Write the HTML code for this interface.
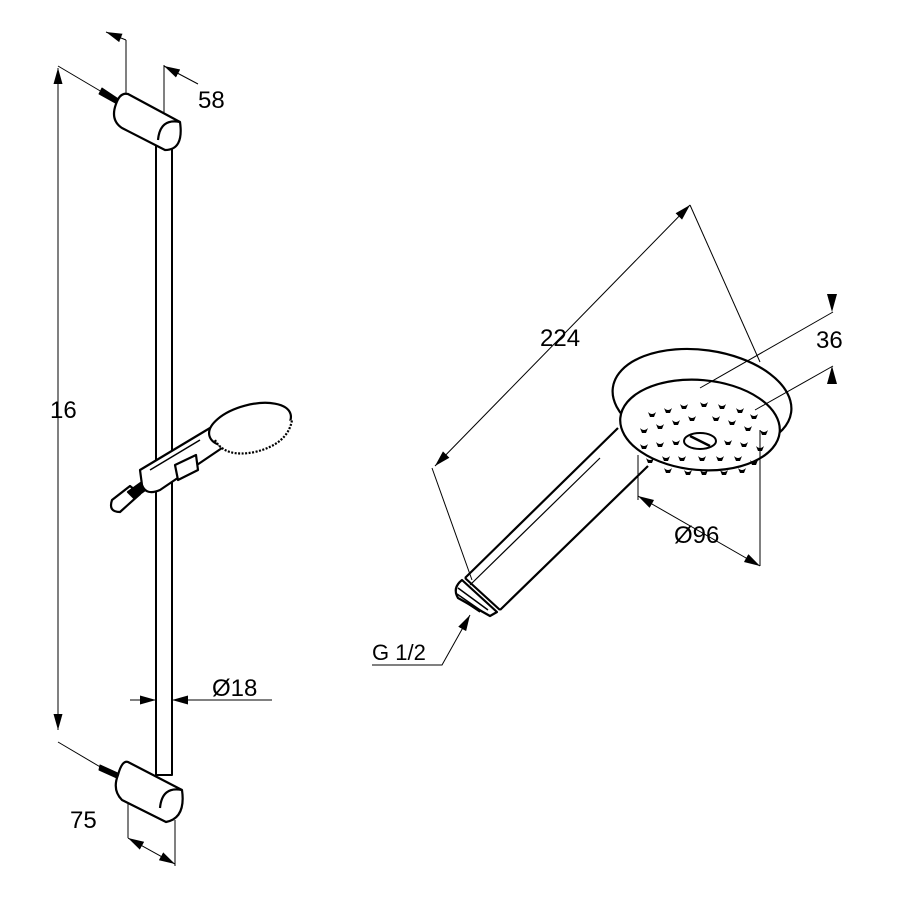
<!DOCTYPE html>
<html><head><style>body{margin:0;background:#fff}svg{display:block}</style></head>
<body>
<svg width="900" height="900" viewBox="0 0 900 900" xmlns="http://www.w3.org/2000/svg" font-family="Liberation Sans, DejaVu Sans, sans-serif">
<defs>
<marker id="a" viewBox="0 0 16 10" refX="16" refY="5" markerWidth="16" markerHeight="10" markerUnits="userSpaceOnUse" orient="auto-start-reverse"><path d="M0,0.5 L16,5 L0,9.5z" fill="#000"/></marker>
</defs>
<g stroke="#000" fill="none" stroke-width="1">
<line x1="58" y1="68" x2="58" y2="730" marker-start="url(#a)" marker-end="url(#a)"/>
<line x1="58" y1="66" x2="102" y2="92"/>
<line x1="58" y1="742" x2="102" y2="768"/>
<line x1="126" y1="98" x2="126" y2="40"/>
<line x1="126" y1="40" x2="106" y2="32" marker-end="url(#a)"/>
<line x1="164" y1="130" x2="164" y2="65"/>
<line x1="198" y1="84" x2="164" y2="66" marker-end="url(#a)"/>
<line x1="130" y1="700" x2="156" y2="700" marker-end="url(#a)"/>
<line x1="272" y1="700" x2="172" y2="700" marker-end="url(#a)"/>
<line x1="128" y1="800" x2="128" y2="838"/>
<line x1="175" y1="820" x2="175" y2="866"/>
<line x1="128" y1="838" x2="175" y2="864" marker-start="url(#a)" marker-end="url(#a)"/>
</g>
<g stroke="#000" fill="#fff" stroke-width="2.2" stroke-linejoin="round">
<rect x="156" y="135" width="16" height="640" stroke-width="2"/>
<path d="M102,88 l18,12 -3,4 -18,-10z" fill="#000" stroke-width="1"/>
<path d="M128,94 L180,122 Q184,150 165,150 L122,128 Q110,120 116,104 Q120,92 128,94z"/>
<path d="M180,122 Q160,118 158,140"/>
<path d="M100,765 l22,10 -3,4 -20,-9z" fill="#000" stroke-width="1"/>
<path d="M128,762 L182,790 Q186,818 166,822 L122,800 Q112,790 118,775 Q122,760 128,762z"/>
<path d="M182,790 Q162,786 160,808"/>
<path d="M112,500 L130,486 L140,494 L120,512 Q108,512 112,500z"/>
<path d="M128,492 l14,-10 6,6 -14,10z" fill="#000"/>
<path d="M140,470 L210,428 L222,448 L160,490 Q146,496 142,485z"/>
<path d="M200,440 L150,470" stroke-width="1.5"/>
<path d="M175,465 L196,455 L198,470 L178,480z"/>
<ellipse cx="250" cy="425" rx="42" ry="20" transform="rotate(-15 250 425)"/>
<path d="M215,440 Q225,458 255,452 Q288,444 292,420" stroke-dasharray="2 1.5"/>
<!-- hand shower right: head first then handle -->
<ellipse cx="702" cy="400" rx="90" ry="50" transform="rotate(8 702 400)"/>
<path d="M465,578 L618,428 Q628,445 648,466 L500,610z" stroke="none"/>
<path d="M465,578 L618,428 M648,466 L500,610"/>
<ellipse cx="700" cy="425" rx="80" ry="45" transform="rotate(5 700 425)"/>
<path d="M470,585 L600,458" stroke-width="1.2"/>
<path d="M465,578 L500,610"/>
<path d="M462,580 L497,612 L490,616 L458,598 Q452,588 462,580z" fill="#fff"/>
<path d="M458,588 l30,22 M457,594 l26,18 M462,600 l18,12" stroke-width="1.5"/>
<ellipse cx="700" cy="441" rx="16" ry="8" stroke-width="2"/>
<line x1="690" y1="436" x2="710" y2="446" stroke-width="2.5"/>
</g>
<g fill="#000">
<path d="M648,412 q4,4 8,0 l-2,5 h-4z"/><path d="M664,408 q4,4 8,0 l-2,5 h-4z"/><path d="M680,404 q4,4 8,0 l-2,5 h-4z"/><path d="M700,402 q4,4 8,0 l-2,5 h-4z"/><path d="M718,404 q4,4 8,0 l-2,5 h-4z"/><path d="M736,408 q4,4 8,0 l-2,5 h-4z"/><path d="M750,414 q4,4 8,0 l-2,5 h-4z"/>
<path d="M640,428 q4,4 8,0 l-2,5 h-4z"/><path d="M656,424 q4,4 8,0 l-2,5 h-4z"/><path d="M672,420 q4,4 8,0 l-2,5 h-4z"/><path d="M688,416 q4,4 8,0 l-2,5 h-4z"/><path d="M712,416 q4,4 8,0 l-2,5 h-4z"/><path d="M728,420 q4,4 8,0 l-2,5 h-4z"/><path d="M744,426 q4,4 8,0 l-2,5 h-4z"/><path d="M760,430 q4,4 8,0 l-2,5 h-4z"/>
<path d="M640,444 q4,4 8,0 l-2,5 h-4z"/><path d="M656,442 q4,4 8,0 l-2,5 h-4z"/><path d="M672,440 q4,4 8,0 l-2,5 h-4z"/><path d="M724,440 q4,4 8,0 l-2,5 h-4z"/><path d="M740,442 q4,4 8,0 l-2,5 h-4z"/><path d="M756,446 q4,4 8,0 l-2,5 h-4z"/>
<path d="M646,458 q4,4 8,0 l-2,5 h-4z"/><path d="M662,456 q4,4 8,0 l-2,5 h-4z"/><path d="M678,456 q4,4 8,0 l-2,5 h-4z"/><path d="M698,456 q4,4 8,0 l-2,5 h-4z"/><path d="M716,456 q4,4 8,0 l-2,5 h-4z"/><path d="M734,456 q4,4 8,0 l-2,5 h-4z"/><path d="M750,460 q4,4 8,0 l-2,5 h-4z"/>
<path d="M664,468 q4,4 8,0 l-2,5 h-4z"/><path d="M684,470 q4,4 8,0 l-2,5 h-4z"/><path d="M700,470 q4,4 8,0 l-2,5 h-4z"/><path d="M720,470 q4,4 8,0 l-2,5 h-4z"/><path d="M738,468 q4,4 8,0 l-2,5 h-4z"/>
<path d="M827,294 L837,294 L832,312z"/>
<path d="M827,384 L837,384 L832,366z"/>
</g>
<g stroke="#000" fill="none" stroke-width="1">
<line x1="435" y1="466" x2="690" y2="205" marker-start="url(#a)" marker-end="url(#a)"/>
<line x1="690" y1="205" x2="760" y2="362"/>
<line x1="432" y1="468" x2="472" y2="580"/>
<line x1="700" y1="388" x2="833" y2="312"/>
<line x1="755" y1="410" x2="833" y2="366"/>
<line x1="638" y1="455" x2="638" y2="500"/>
<line x1="760" y1="430" x2="760" y2="566"/>
<line x1="638" y1="496" x2="760" y2="566" marker-start="url(#a)" marker-end="url(#a)"/>
<polyline points="372,665 442,665 470,615" marker-end="url(#a)"/>
</g>
<g font-size="24" fill="#000">
<text x="198" y="108">58</text>
<text x="50" y="418">16</text>
<text x="212" y="696">Ø18</text>
<text x="70" y="828">75</text>
<text x="540" y="346">224</text>
<text x="816" y="348">36</text>
<text x="674" y="543">Ø96</text>
<text x="372" y="660" font-size="22">G 1/2</text>
</g>
</svg>
</body></html>
